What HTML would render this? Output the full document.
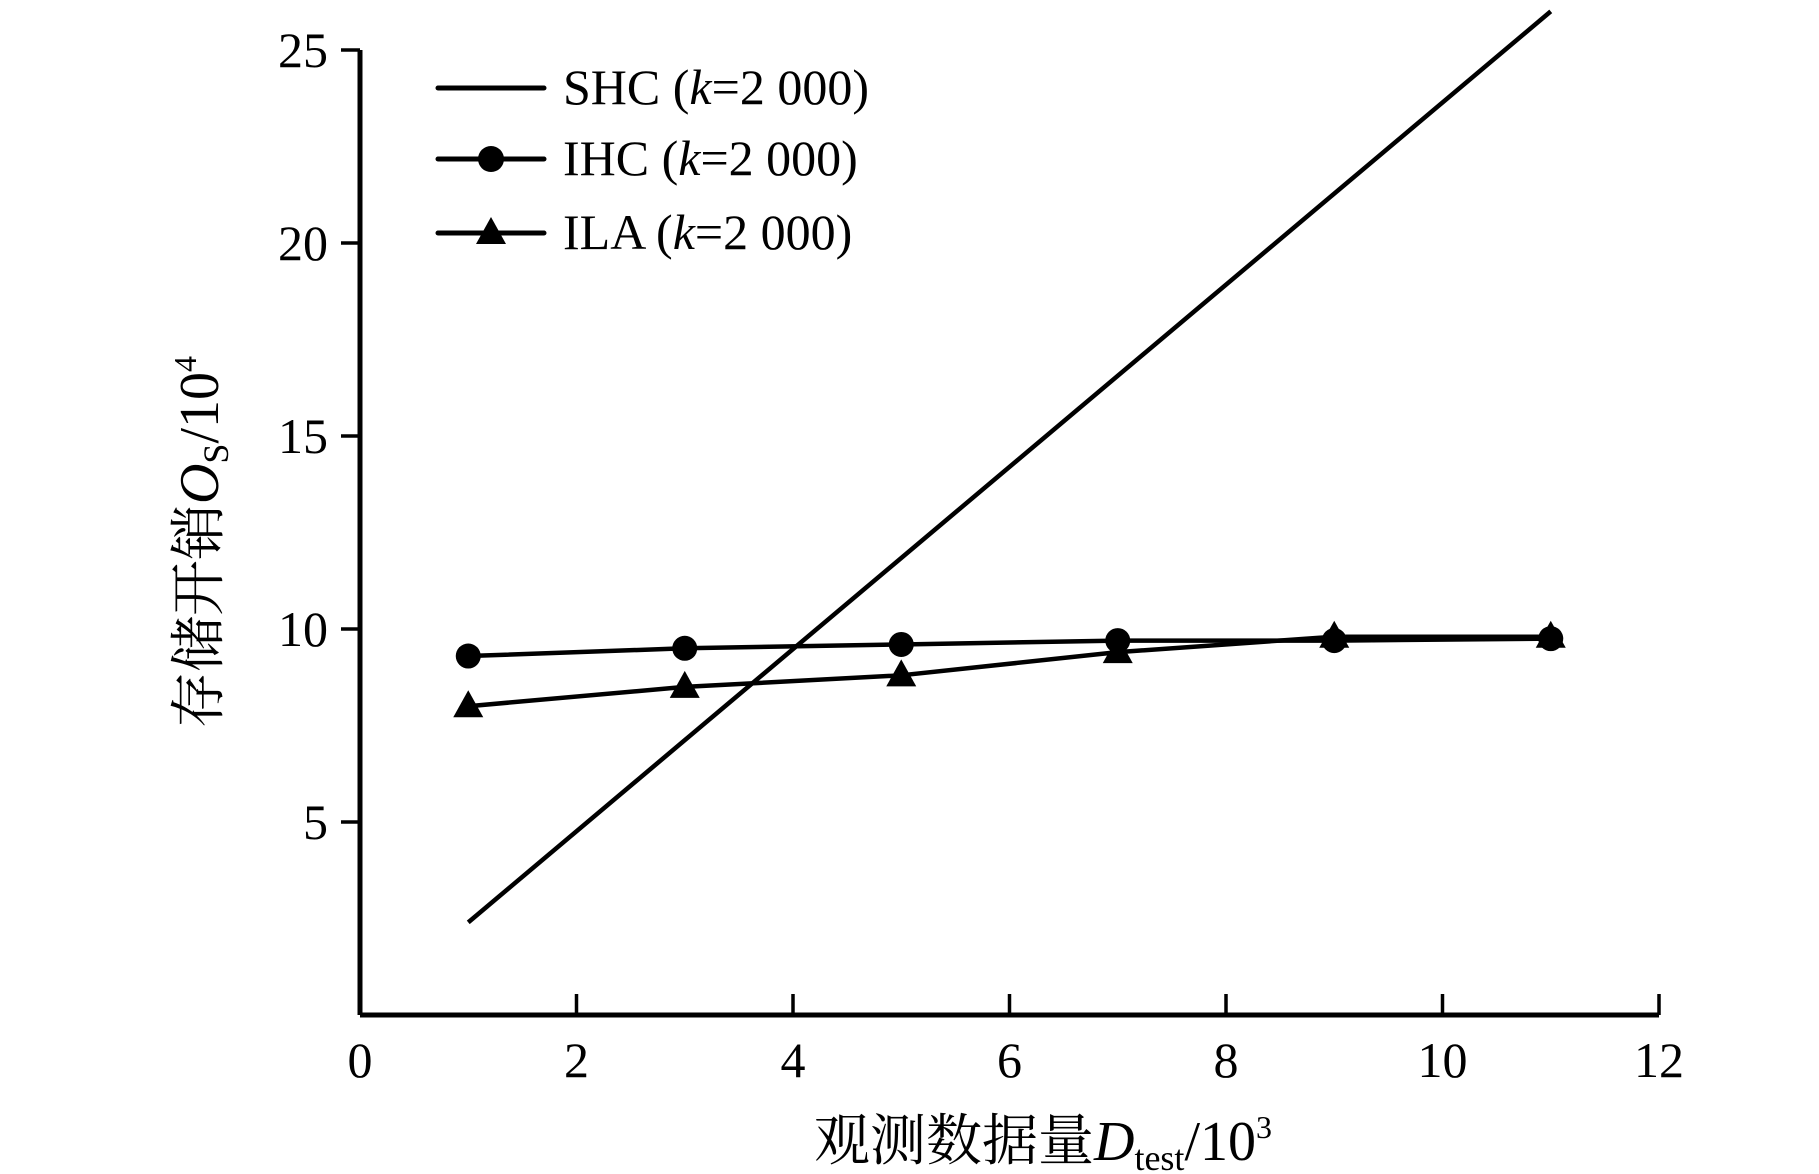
<!DOCTYPE html>
<html><head><meta charset="utf-8"><style>
html,body{margin:0;padding:0;background:#fff;}
svg{display:block;}
text{font-family:"Liberation Serif","Noto Serif CJK SC",serif;fill:#000;}
</style></head><body>
<svg id="chart" width="1819" height="1174" viewBox="0 0 1819 1174">
<g id="axes"></g>
<g id="series"></g>
<g id="legend">
  <line x1="438" y1="88" x2="544" y2="88" stroke="#000" stroke-width="5" stroke-linecap="round"/>
  <text x="563" y="104" font-size="50">SHC (<tspan font-style="italic">k</tspan>=2  000)</text>
  <line x1="438" y1="159" x2="544" y2="159" stroke="#000" stroke-width="5" stroke-linecap="round"/>
  <circle cx="491" cy="159" r="13" fill="#000"/>
  <text x="563" y="175" font-size="50">IHC (<tspan font-style="italic">k</tspan>=2  000)</text>
  <line x1="438" y1="233" x2="544" y2="233" stroke="#000" stroke-width="5" stroke-linecap="round"/>
  <polygon points="491,217 506,244 476,244" fill="#000"/>
  <text x="563" y="249" font-size="50">ILA (<tspan font-style="italic">k</tspan>=2  000)</text>
</g>
<text x="1043" y="1160" font-size="56" text-anchor="middle">观测数据量<tspan font-style="italic">D</tspan><tspan font-size="36" dy="10">test</tspan><tspan dy="-10">/10</tspan><tspan font-size="32" dy="-22">3</tspan></text>
<text transform="translate(218,542) rotate(-90)" font-size="56" text-anchor="middle">存储开销<tspan font-style="italic">O</tspan><tspan font-size="36" dy="10">S</tspan><tspan dy="-10">/10</tspan><tspan font-size="32" dy="-22">4</tspan></text>
</svg>
<script>
const xTicks = [0, 2, 4, 6, 8, 10, 12];
const yTicks = [5, 10, 15, 20, 25];
const xValues = [1, 3, 5, 7, 9, 11];
const shcValues = [2.4, 26];
const shcX = [1, 11];
const ihcValues = [9.3, 9.5, 9.6, 9.7, 9.7, 9.75];
const ilaValues = [8.0, 8.5, 8.8, 9.4, 9.8, 9.8];

const X0 = 360, X1 = 1659, Y0 = 1015, Y25 = 50;
function sx(v){ return X0 + (X1 - X0) * v / 12; }
function sy(v){ return Y0 - (Y0 - Y25) * v / 25; }
const NS = 'http://www.w3.org/2000/svg';
const axes = document.getElementById('axes');
const series = document.getElementById('series');
function mk(tag, attrs, parent){ const e = document.createElementNS(NS, tag); for (const k in attrs) e.setAttribute(k, attrs[k]); parent.appendChild(e); return e; }

let el = mk('line', {x1:X0, y1:Y0, x2:X1, y2:Y0, stroke:'#000', 'stroke-width':5}, axes);


el = mk('line', {x1:X0, y1:Y0, x2:X0, y2:Y25, stroke:'#000', 'stroke-width':5}, axes);



xTicks.forEach(t => {
  if (t > 0) {
    const tk = mk('line', {x1:sx(t), y1:Y0, x2:sx(t), y2:Y0-21, stroke:'#000', 'stroke-width':3.5}, axes);
    
    
  }
  const lb = mk('text', {x:sx(t), y:Y0+62, 'font-size':50, 'text-anchor':'middle'}, axes);
  lb.textContent = t;
  
  
});
yTicks.forEach(t => {
  const tk = mk('line', {x1:X0, y1:sy(t), x2:X0-19, y2:sy(t), stroke:'#000', 'stroke-width':3.5}, axes);
  
  
  const lb = mk('text', {x:X0-32, y:sy(t)+17, 'font-size':50, 'text-anchor':'end'}, axes);
  lb.textContent = t;
  
  
});

function poly(xs, ys, name){
  const p = mk('polyline', {points: xs.map((x,i)=>sx(x)+','+sy(ys[i])).join(' '), fill:'none', stroke:'#000', 'stroke-width':4.5, 'stroke-linejoin':'round'}, series);
  
  
}
poly(shcX, shcValues, 'shc-line');
poly(xValues, ihcValues, 'ihc-line');
poly(xValues, ilaValues, 'ila-line');
xValues.forEach((x,i) => {
  const c = mk('circle', {cx:sx(x), cy:sy(ihcValues[i]), r:12.5, fill:'#000'}, series);
  
  
  const px = sx(x), py = sy(ilaValues[i]);
  const tr = mk('polygon', {points:(px)+','+(py-16)+' '+(px+15)+','+(py+11)+' '+(px-15)+','+(py+11), fill:'#000'}, series);
  
  
});
</script>
</body></html>
